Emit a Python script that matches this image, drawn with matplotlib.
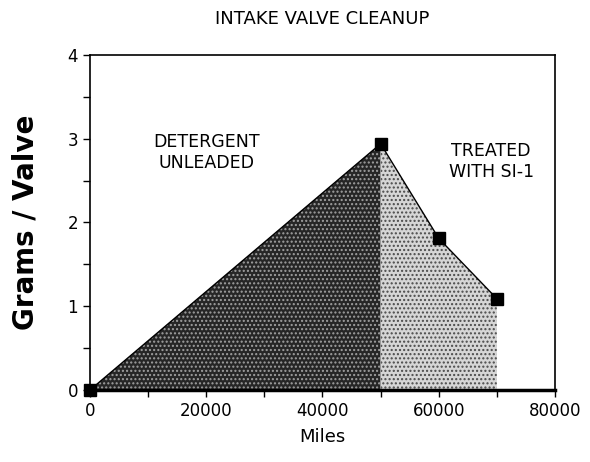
import numpy as np
import matplotlib.pyplot as plt

# donnees
miles = [0, 50000, 60000, 70000]
grams = [0, 2.94, 1.81, 1.09]

x_ticks = [0, 20000, 40000, 60000, 80000]
y_ticks = [0, 1, 2, 3, 4]

fig = plt.figure(figsize=(5.9, 4.62), dpi=100)
ax = fig.add_axes([0.1525, 0.1558, 0.7882, 0.7252])

x = np.array(miles)
y = np.array(grams)

# zone foncee (detergent) puis zone claire (traite SI-1)
ax.fill_between(x[:2], y[:2], 0, facecolor="#262626", edgecolor="#a0a0a0",
                hatch="....", linewidth=0)
ax.fill_between(x[1:], y[1:], 0, facecolor="#d6d6d6", edgecolor="#4a4a4a",
                hatch="....", linewidth=0)
ax.plot(x, y, color="black", linewidth=1, marker="s", markersize=8,
        markerfacecolor="black", clip_on=False, zorder=5)
ax.plot([0, 80000], [0, 0], color="black", linewidth=2.5, clip_on=False)

ax.set_xlim(0, 80000)
ax.set_ylim(0, 4)
ax.set_xticks(x_ticks)
ax.set_yticks(y_ticks)
ax.set_xticks(np.arange(0, 80001, 10000), minor=True)
ax.set_yticks(np.arange(0, 4.01, 0.5), minor=True)
ax.tick_params(which="both", direction="out", length=5, width=1, labelsize=12)

for s in ax.spines.values():
    s.set_linewidth(1.2)

ax.text(20000, 2.84, "DETERGENT\nUNLEADED", ha="center", va="center",
        fontsize=12.5, linespacing=1.2)
ax.text(69000, 2.73, "TREATED\nWITH SI-1", ha="center", va="center",
        fontsize=12.5, linespacing=1.2)

ax.set_title("INTAKE VALVE CLEANUP", fontsize=13, pad=22)
ax.set_xlabel("Miles", fontsize=13, labelpad=6)
ax.set_ylabel("Grams / Valve", fontsize=20, fontweight="bold", labelpad=20)

fig.savefig("out.png", dpi=100)
